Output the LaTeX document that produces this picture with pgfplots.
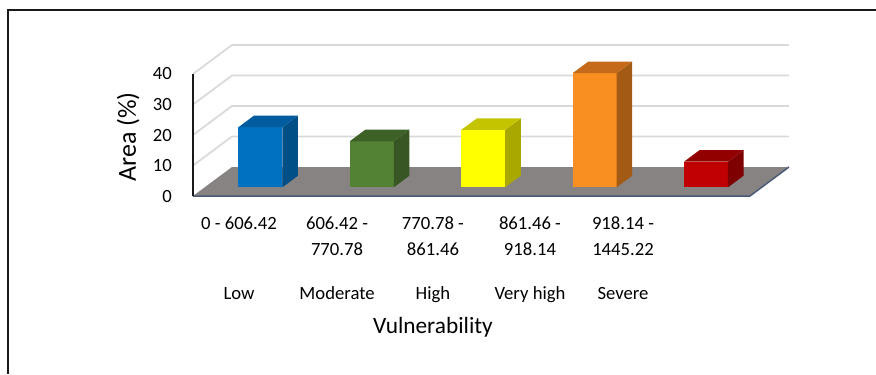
\documentclass[border=0pt]{standalone}
\usepackage{pgfplots}
\pgfplotsset{compat=1.18}
\usepackage{pgfplotstable}
\usepackage{fontspec}
\setmainfont{Carlito}

% bar colours: front face, top face, side face
\definecolor{lowF}{HTML}{0070C0}\definecolor{lowT}{HTML}{005C9E}\definecolor{lowS}{HTML}{004F87}
\definecolor{modF}{HTML}{548235}\definecolor{modT}{HTML}{3E6127}\definecolor{modS}{HTML}{375623}
\definecolor{higF}{HTML}{FFFF00}\definecolor{higT}{HTML}{C4C400}\definecolor{higS}{HTML}{A8A800}
\definecolor{vhiF}{HTML}{F88F20}\definecolor{vhiT}{HTML}{C46A1A}\definecolor{vhiS}{HTML}{A35A15}
\definecolor{sevF}{HTML}{C00000}\definecolor{sevT}{HTML}{920000}\definecolor{sevS}{HTML}{7E0000}
\definecolor{floorgray}{HTML}{878383}
\definecolor{flooredge}{HTML}{4A5A74}
\definecolor{gridgray}{HTML}{D9D9D9}

% share of the area in each vulnerability class (%)
\pgfplotstableread{
idx area front top side
0 19.7 lowF lowT lowS
1 15.1 modF modT modS
2 18.8 higF higT higS
3 37.4 vhiF vhiT vhiS
4 8.4 sevF sevT sevS
}\areatable

% oblique depth of the floor (x in category units, y in %)
\def\dX{0.35}
\def\dY{9.51}
% bar half width, and front/back depth fractions of the bars
\def\hw{0.1975}
\def\ff{0.3}
\def\fb{0.7}

\begin{document}
\begin{tikzpicture}
\begin{axis}[
  scale only axis, width=447pt, height=113.25pt,
  xmin=-0.5, xmax=4.85, ymin=0, ymax=49.5,
  clip=false,
  axis line style={draw=none},
  major tick length=0pt,
  xtick=\empty,
  ytick={0,10,20,30,40},
  /pgf/number format/assume math mode=true,
  yticklabel style={font=\fontsize{14}{16}\selectfont, anchor=east, inner sep=0pt, xshift=-15.75pt},
]
% floor
\addplot[fill=floorgray, draw=none] coordinates {(-0.5,0) (4.5,0) (4.85,9.51) (-0.15,9.51)} -- cycle;
\addplot[flooredge, line width=1.1pt] coordinates {(-0.5,0) (4.5,0) (4.85,9.51)};
% side and back wall gridlines
\pgfplotsinvokeforeach{10,20,30,40}{
  \addplot[gridgray, line width=1.3pt] coordinates {(-0.5,#1) (-0.15,#1+9.51) (4.85,#1+9.51)};
}
% vertical axis line
\addplot[black!90, line width=1.3pt] coordinates {(-0.5,0) (-0.5,40)};

% bars: front, side and top faces
\pgfplotsinvokeforeach{0,...,4}{
  \pgfplotstablegetelem{#1}{area}\of\areatable \let\barval\pgfplotsretval
  \pgfplotstablegetelem{#1}{front}\of\areatable \let\colF\pgfplotsretval
  \pgfplotstablegetelem{#1}{top}\of\areatable \let\colT\pgfplotsretval
  \pgfplotstablegetelem{#1}{side}\of\areatable \let\colS\pgfplotsretval
  \pgfmathsetmacro\xa{#1-\hw+\ff*\dX}
  \pgfmathsetmacro\xb{#1+\hw+\ff*\dX}
  \pgfmathsetmacro\xc{#1-\hw+\fb*\dX}
  \pgfmathsetmacro\xd{#1+\hw+\fb*\dX}
  \pgfmathsetmacro\ya{\ff*\dY}
  \pgfmathsetmacro\yb{\fb*\dY}
  \pgfmathsetmacro\yat{\barval+\ff*\dY}
  \pgfmathsetmacro\ybt{\barval+\fb*\dY}
  \edef\drawbar{%
    \noexpand\addplot[fill=\colF, draw=none] coordinates {(\xa,\ya) (\xb,\ya) (\xb,\yat) (\xa,\yat)} -- cycle;
    \noexpand\addplot[fill=\colS, draw=none] coordinates {(\xb,\ya) (\xd,\yb) (\xd,\ybt) (\xb,\yat)} -- cycle;
    \noexpand\addplot[fill=\colT, draw=none] coordinates {(\xa,\yat) (\xb,\yat) (\xd,\ybt) (\xc,\ybt)} -- cycle;
  }\drawbar
}

% category labels
\begin{scope}[every node/.style={anchor=base, inner sep=0pt, font=\fontsize{14}{16}\selectfont}]
\node at (axis cs:-0.087,-10.92) {0 - 606.42};
\node at (axis cs:0.793,-10.92) {606.42 -};
\node at (axis cs:0.793,-19.34) {770.78};
\node at (axis cs:1.654,-10.92) {770.78 -};
\node at (axis cs:1.654,-19.34) {861.46};
\node at (axis cs:2.525,-10.92) {861.46 -};
\node at (axis cs:2.525,-19.34) {918.14};
\node at (axis cs:3.360,-10.92) {918.14 -};
\node at (axis cs:3.360,-19.34) {1445.22};
\node at (axis cs:-0.087,-33.87) {Low};
\node at (axis cs:0.793,-33.87) {Moderate};
\node at (axis cs:1.654,-33.87) {High};
\node at (axis cs:2.525,-33.87) {Very high};
\node at (axis cs:3.360,-33.87) {Severe};
\end{scope}
\node[anchor=base, inner sep=0pt, font=\fontsize{17.5}{20}\selectfont] at (axis cs:1.654,-45.0) {Vulnerability};
\node[anchor=base, inner sep=0pt, rotate=90, font=\fontsize{19.5}{22}\selectfont] at (axis cs:-1.0117,19.34) {Area (\%)};

% frame
\draw[black!90, line width=1.5pt] (axis cs:5.6311,60.98) -- (axis cs:-2.1607,60.98) -- (axis cs:-2.1607,-58.36);
\coordinate (SW) at (axis cs:-2.2325,-58.36);
\coordinate (NE) at (axis cs:5.6311,64.26);
\end{axis}
\pgfresetboundingbox
\path[use as bounding box] (SW) rectangle (NE);
\end{tikzpicture}
\end{document}
